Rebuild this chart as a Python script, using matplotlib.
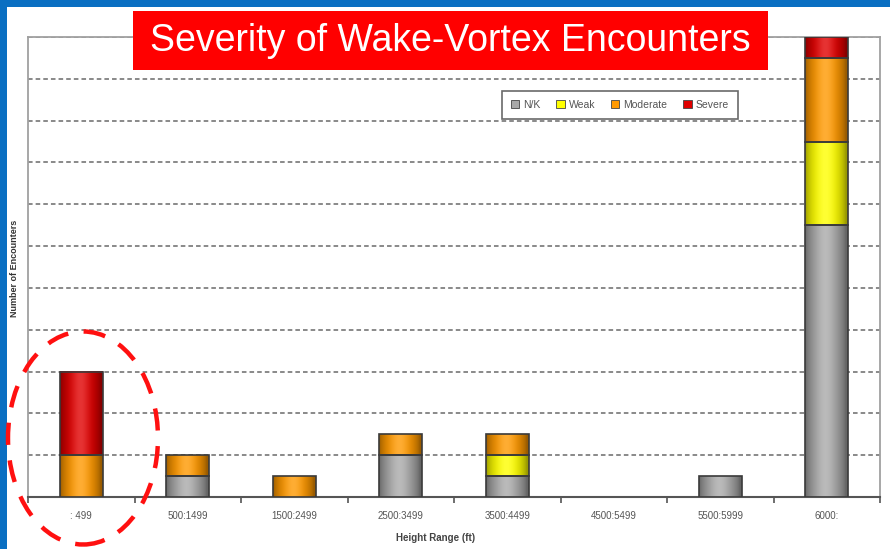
import numpy as np
import matplotlib
matplotlib.use("Agg")
import matplotlib.pyplot as plt
from matplotlib.patches import Ellipse, Rectangle, Patch
from matplotlib.colors import to_rgb

plt.rcParams["font.family"] = ["Liberation Sans", "DejaVu Sans"]

# Encounter counts per height band, stacked bottom-to-top
categories = [": 499", "500:1499", "1500:2499", "2500:3499",
              "3500:4499", "4500:5499", "5500:5999", "6000:"]
nk = [0, 1, 0, 2, 1, 0, 1, 13]
weak = [0, 0, 0, 0, 1, 0, 0, 4]
moderate = [2, 1, 1, 1, 1, 0, 0, 4]
severe = [4, 0, 0, 0, 0, 0, 0, 1]

series_names = ["N/K", "Weak", "Moderate", "Severe"]
series_colors = ["#a9a9a9", "#ffff00", "#ff9900", "#e00000"]
series_values = [nk, weak, moderate, severe]

W, H, DPI = 890, 549, 100
fig = plt.figure(figsize=(W / DPI, H / DPI), dpi=DPI)
fig.patch.set_facecolor("white")

def fx(px):
    return px / W

def fy(py):
    return 1 - py / H

ax = fig.add_axes([fx(28), fy(497), fx(880) - fx(28), fy(37) - fy(497)])
ax.set_facecolor("white")

x = np.arange(len(categories))
bar_w = 0.4
bottom = np.zeros(len(categories))


def shaded(color, n=64):
    base = np.array(to_rgb(color))
    t = np.linspace(0, 1, n)
    p = np.sin(np.pi * np.clip(t * 1.05, 0, 1)) ** 0.7
    dark = 0.6 + 0.4 * p
    img = base[None, :] * dark[:, None] + (1 - base[None, :]) * (0.2 * p ** 6)[:, None]
    return np.clip(img, 0, 1)[None, :, :]


for name, color, vals in zip(series_names, series_colors, series_values):
    vals = np.array(vals, dtype=float)
    mask = vals > 0
    bars = ax.bar(x[mask], vals[mask], bar_w, bottom=bottom[mask],
                  color=color, edgecolor="none", zorder=2, label=name)
    for rect in bars:
        x0, y0 = rect.get_x(), rect.get_y()
        w, h = rect.get_width(), rect.get_height()
        ax.imshow(shaded(color), extent=[x0, x0 + w, y0, y0 + h],
                  aspect="auto", interpolation="bicubic", zorder=3)
    ax.bar(x[mask], vals[mask], bar_w, bottom=bottom[mask], fill=False,
           edgecolor="#3a3a3a", linewidth=1.2, zorder=4)
    bottom = bottom + vals

ax.set_xlim(-0.5, len(categories) - 0.5)
ax.set_ylim(0, 22)
ax.set_yticks(np.arange(0, 23, 2))
ax.set_yticklabels([])
ax.tick_params(axis="y", length=0)
ax.yaxis.grid(True, linestyle=(0, (3, 2)), color="#6a6a6a", linewidth=1.1)
ax.set_axisbelow(True)

ax.set_xticks(x)
ax.set_xticklabels(categories, fontsize=7, color="#555555")
ax.tick_params(axis="x", which="major", length=0, pad=10)
ax.set_xticks(np.arange(-0.5, len(categories), 1), minor=True)
ax.tick_params(axis="x", which="minor", length=4, width=1.2, color="#555555")

for side in ["left", "right", "top"]:
    ax.spines[side].set_color("#a0a0a0")
    ax.spines[side].set_linewidth(1.3)
ax.spines["bottom"].set_color("#555555")
ax.spines["bottom"].set_linewidth(1.5)

fig.text(fx(436), fy(538), "Height Range (ft)", fontsize=7, fontweight="bold",
         color="#444444", ha="center", va="center")
fig.text(fx(15), fy(268), "Number of Encounters", fontsize=6.5, fontweight="bold",
         color="#333333", ha="center", va="center", rotation=90)

# Legend
handles = [Patch(facecolor=c, edgecolor="#444444", linewidth=0.6) for c in series_colors]
leg = fig.legend(handles, series_names, loc="center",
                 bbox_to_anchor=(fx(620), fy(105)), ncol=4, fontsize=7.5,
                 frameon=True, fancybox=False, shadow=False,
                 handlelength=0.8, handleheight=0.8, handletextpad=0.4,
                 columnspacing=1.5, borderpad=0.9)
leg.get_frame().set_edgecolor("#444444")
leg.get_frame().set_linewidth(1.2)
for t in leg.get_texts():
    t.set_color("#555555")

# Title banner
fig.patches.append(Rectangle((fx(133), fy(70)), fx(768) - fx(133), fy(11) - fy(70),
                             transform=fig.transFigure, facecolor="#ff0000",
                             edgecolor="none", zorder=5))
fig.text(fx(450), fy(41), "Severity of Wake-Vortex Encounters", fontsize=27,
         color="white", ha="center", va="center", zorder=6)

# Blue frame on top and left edges
fig.patches.append(Rectangle((0, fy(7)), 1, fy(0) - fy(7), transform=fig.transFigure,
                             facecolor="#0a6fc2", edgecolor="none", zorder=7))
fig.patches.append(Rectangle((0, 0), fx(7), 1, transform=fig.transFigure,
                             facecolor="#0a6fc2", edgecolor="none", zorder=7))

# Highlight ring around the lowest band
ring = Ellipse((fx(83), fy(438)), fx(150), fy(332) - fy(545),
               transform=fig.transFigure, fill=False, edgecolor="#ff1010",
               linewidth=3.2, linestyle=(0, (5, 3.5)), zorder=8)
fig.patches.append(ring)

fig.savefig("out.png", dpi=DPI)
